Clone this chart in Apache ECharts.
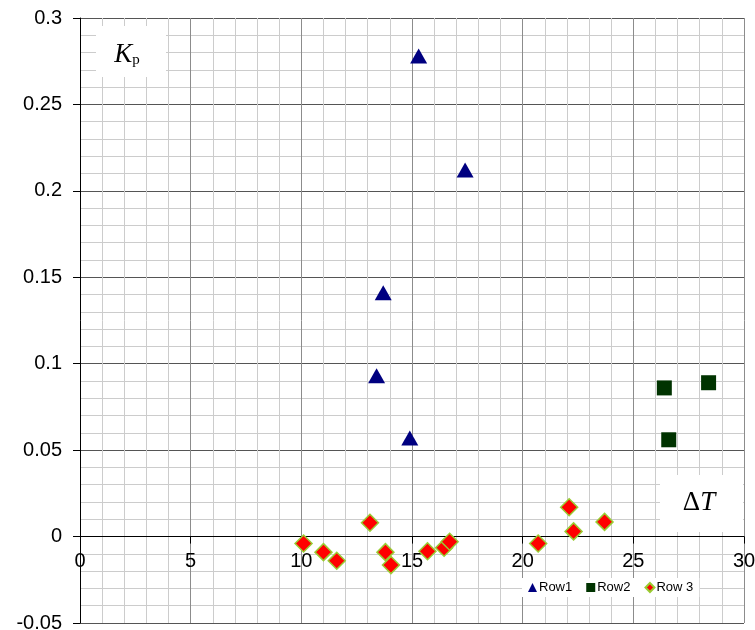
<!DOCTYPE html>
<html>
<head>
<meta charset="utf-8">
<script src="https://cdn.jsdelivr.net/npm/echarts@6/dist/echarts.min.js"></script>
<style>
  html, body { margin: 0; padding: 0; background: #fff; }
  #chart { width: 755px; height: 630px; }
</style>
</head>
<body>
<div id="chart"></div>
<script>
// Row1 - triangles
const row1 = [
  [15.3, 0.278],
  [17.4, 0.212],
  [13.7, 0.141],
  [13.4, 0.093],
  [14.9, 0.057]
]
// Row2 - squares
const row2 = [
  [26.4, 0.086],
  [28.4, 0.089],
  [26.6, 0.056]
]
// Row 3 - diamonds
const row3 = [
  [10.1, -0.004],
  [11.0, -0.009],
  [11.6, -0.014],
  [13.1, 0.008],
  [13.8, -0.009],
  [14.05, -0.0165],
  [15.7, -0.0085],
  [16.45, -0.0065],
  [16.7, -0.003],
  [20.7, -0.004],
  [22.1, 0.017],
  [22.3, 0.003],
  [23.7, 0.0085]
]
const seriesNames = ['Row1', 'Row2', 'Row 3']

const xMin = 0, xMax = 30
const yMin = -0.05, yMax = 0.3

const chart = echarts.init(document.getElementById('chart'))

const font = 'Liberation Sans, Arial, sans-serif'
const grid = { left: 80, right: 11, top: 18, bottom: 7 }
const gridHeight = 630 - grid.top - grid.bottom
// x 轴放在 y=0 的位置
const xAxisOffset = -gridHeight * (0 - yMin) / (yMax - yMin)

const option = {
  backgroundColor: '#fff',
  animation: false,
  grid: { ...grid, containLabel: false, outerBoundsMode: 'none' },
  legend: {
    data: [
      { name: seriesNames[0], icon: 'triangle' },
      { name: seriesNames[1], icon: 'rect' },
      { name: seriesNames[2], icon: 'diamond' }
    ],
    left: 522,
    top: 578,
    backgroundColor: '#fff',
    padding: [3, 6],
    itemWidth: 9,
    itemHeight: 9,
    itemGap: 14,
    textStyle: { fontSize: 13, color: '#000', fontFamily: font, padding: [0, 0, 0, -3] }
  },
  xAxis: {
    type: 'value',
    min: xMin,
    max: xMax,
    interval: 5,
    offset: xAxisOffset,
    axisLine: { onZero: false, lineStyle: { color: '#000', width: 1 } },
    axisTick: { show: true, length: 7, lineStyle: { color: '#000' } },
    axisLabel: { fontSize: 20, color: '#000', fontFamily: font, margin: 15 },
    splitLine: { show: true, lineStyle: { color: '#8c8c8c' } },
    minorTick: { show: false, splitNumber: 5 },
    minorSplitLine: { show: true, lineStyle: { color: '#cccccc' } }
  },
  yAxis: {
    type: 'value',
    min: yMin,
    max: yMax,
    interval: 0.05,
    axisLine: { onZero: false, lineStyle: { color: '#000', width: 1 } },
    axisTick: { show: true, length: 7, lineStyle: { color: '#000' } },
    axisLabel: { fontSize: 20, color: '#000', fontFamily: font, margin: 18 },
    splitLine: { show: true, lineStyle: { color: '#555' } },
    minorTick: { show: false, splitNumber: 5 },
    minorSplitLine: { show: true, lineStyle: { color: '#cccccc' } }
  },
  graphic: [
    {
      type: 'rect', z: 1,
      shape: { x: 96, y: 26, width: 70, height: 51 },
      style: { fill: '#fff' }
    },
    {
      type: 'text', z: 1, x: 127, y: 55,
      style: {
        text: '{k|K}{p|p}',
        align: 'center', verticalAlign: 'middle',
        rich: {
          k: { fontFamily: 'Liberation Serif, Times New Roman, serif', fontStyle: 'italic', fontSize: 27, fill: '#000' },
          p: { fontFamily: 'Liberation Serif, Times New Roman, serif', fontSize: 15, fill: '#000', padding: [10, 0, 0, 0] }
        }
      }
    },
    {
      type: 'rect', z: 1,
      shape: { x: 660, y: 475, width: 83, height: 57 },
      style: { fill: '#fff' }
    },
    {
      type: 'text', z: 1, x: 699, y: 503,
      style: {
        text: '{d|Δ}{t|T}',
        align: 'center', verticalAlign: 'middle',
        rich: {
          d: { fontFamily: 'Liberation Serif, Times New Roman, serif', fontSize: 27, fill: '#000' },
          t: { fontFamily: 'Liberation Serif, Times New Roman, serif', fontStyle: 'italic', fontSize: 27, fill: '#000' }
        }
      }
    }
  ],
  series: [
    {
      name: seriesNames[0],
      type: 'scatter',
      data: row1,
      symbol: 'triangle',
      symbolSize: [17, 15],
      itemStyle: { color: '#000080', opacity: 1 }
    },
    {
      name: seriesNames[1],
      type: 'scatter',
      data: row2,
      symbol: 'rect',
      symbolSize: 15,
      itemStyle: { color: '#003300', opacity: 1 }
    },
    {
      name: seriesNames[2],
      type: 'scatter',
      data: row3,
      symbol: 'diamond',
      symbolSize: 17,
      itemStyle: { color: '#ff0000', borderColor: '#99cc33', borderWidth: 1.5, opacity: 1 }
    }
  ]
}

chart.setOption(option)
</script>
</body>
</html>
